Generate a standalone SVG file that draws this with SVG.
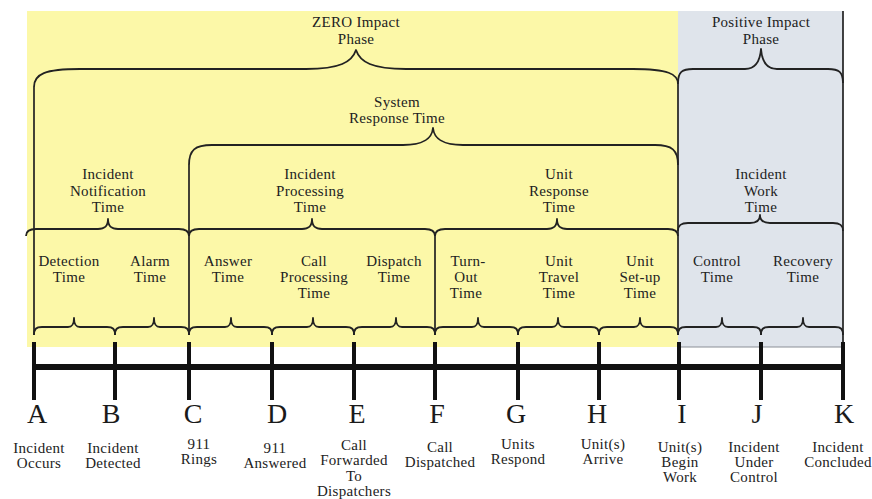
<svg xmlns="http://www.w3.org/2000/svg" width="872" height="499" viewBox="0 0 872 499">
<style>
  .t{font-family:"Liberation Serif","Times New Roman",serif;font-size:15px;letter-spacing:0.3px;fill:#222;text-anchor:middle}
  .L{font-family:"Liberation Serif","Times New Roman",serif;font-size:28px;fill:#1a1a1a;text-anchor:middle}
  .br{fill:none;stroke:#222;stroke-width:1.8;stroke-linejoin:round}
  .vl{stroke:#222;stroke-width:1.7}
  .tk{stroke:#111;stroke-width:4}
</style>
<rect width="872" height="499" fill="#ffffff"/>
<g id="backgrounds">
  <rect x="27" y="11" width="651" height="336" fill="#fcf8a8"/>
  <rect x="678" y="11" width="165" height="336" fill="#dfe4eb"/>
  <line x1="678" y1="347" x2="843" y2="347" stroke="#8a8f96" stroke-width="1"/>
</g>
<g id="connectors">
  <path class="br" d="M34,87 C34,74 45,69 80,69 L306,69 C340,69 352,62 356,50 C360,62 372,69 406,69 L633,69 C668,69 678,74 678,84"/>
  <path class="br" d="M678,83 C678,72 682,69 693,69 L745,69 C755,69 760,62 761,49 C762,62 767,69 777,69 L828,69 C839,69 843,72 843,83"/>
  <path class="br" d="M189,165 C189,150 195,145 212,145 L403,145 C425,145 432,138 433,128 C434,138 441,145 463,145 L655,145 C672,145 678,150 678,165"/>
  <path class="br" d="M26,236 C26,231 29,229 36,229 L98,229 C104,229 108,227 108,219 C108,227 112,229 118,229 L179,229 C186,229 189,231 189,236"/>
  <path class="br" d="M189,236 C189,231 192,229 199,229 L302,229 C308,229 312,227 312,219 C312,227 316,229 322,229 L425,229 C432,229 435,231 435,236"/>
  <path class="br" d="M435,236 C435,231 438,229 445,229 L547,229 C553,229 557,227 557,219 C557,227 561,229 567,229 L668,229 C675,229 678,231 678,236"/>
  <path class="br" d="M678,231 C678,225 681,223 688,223 L750,223 C756,223 760,221 760,215 C760,221 764,223 770,223 L833,223 C840,223 843,225 843,231"/>
  <line class="vl" x1="34" y1="87" x2="34" y2="335"/>
  <line class="vl" x1="189" y1="165" x2="189" y2="335"/>
  <line class="vl" x1="435" y1="236" x2="435" y2="335"/>
  <line class="vl" x1="678" y1="83" x2="678" y2="335"/>
  <line class="vl" x1="843" y1="11" x2="843" y2="347"/>
  <path class="br" d="M34,335 C34,329 36,327 42,327 L68,327 C72,327 74,325 74,318 C74,325 76,327 80,327 L107,327 C113,327 115,329 115,335"/>
  <path class="br" d="M115,335 C115,329 117,327 123,327 L148,327 C152,327 154,325 154,318 C154,325 156,327 160,327 L181,327 C187,327 189,329 189,335"/>
  <path class="br" d="M189,335 C189,329 191,327 197,327 L225,327 C229,327 231,325 231,318 C231,325 233,327 237,327 L264,327 C270,327 272,329 272,335"/>
  <path class="br" d="M272,335 C272,329 274,327 280,327 L307,327 C311,327 313,325 313,318 C313,325 315,327 319,327 L346,327 C352,327 354,329 354,335"/>
  <path class="br" d="M354,335 C354,329 356,327 362,327 L390,327 C394,327 396,325 396,318 C396,325 398,327 402,327 L427,327 C433,327 435,329 435,335"/>
  <path class="br" d="M435,335 C435,329 437,327 443,327 L472,327 C476,327 478,325 478,318 C478,325 480,327 484,327 L510,327 C516,327 518,329 518,335"/>
  <path class="br" d="M518,335 C518,329 520,327 526,327 L552,327 C556,327 558,325 558,318 C558,325 560,327 564,327 L591,327 C597,327 599,329 599,335"/>
  <path class="br" d="M599,335 C599,329 601,327 607,327 L634,327 C638,327 640,325 640,318 C640,325 642,327 646,327 L670,327 C676,327 678,329 678,335"/>
  <path class="br" d="M678,335 C678,329 680,327 686,327 L716,327 C720,327 722,325 722,318 C722,325 724,327 728,327 L753,327 C759,327 761,329 761,335"/>
  <path class="br" d="M761,335 C761,329 763,327 769,327 L797,327 C801,327 803,325 803,318 C803,325 805,327 809,327 L835,327 C841,327 843,329 843,335"/>
  <rect x="32" y="364" width="813" height="6" fill="#111"/>
</g>
<g id="phase-zero"><text class="t" x="356" y="27">ZERO Impact</text><text class="t" x="356" y="44">Phase</text></g>
<g id="phase-positive"><text class="t" x="761" y="27">Positive Impact</text><text class="t" x="761" y="44">Phase</text></g>
<g id="system-response"><text class="t" x="397" y="107">System</text><text class="t" x="397" y="123">Response Time</text></g>
<g id="incident-notification"><text class="t" x="108" y="179">Incident</text><text class="t" x="108" y="196">Notification</text><text class="t" x="108" y="212">Time</text></g>
<g id="incident-processing"><text class="t" x="310" y="179">Incident</text><text class="t" x="310" y="196">Processing</text><text class="t" x="310" y="212">Time</text></g>
<g id="unit-response"><text class="t" x="559" y="179">Unit</text><text class="t" x="559" y="196">Response</text><text class="t" x="559" y="212">Time</text></g>
<g id="incident-work"><text class="t" x="761" y="179">Incident</text><text class="t" x="761" y="196">Work</text><text class="t" x="761" y="212">Time</text></g>
<g id="detection-time"><text class="t" x="69" y="266">Detection</text><text class="t" x="69" y="282">Time</text></g>
<g id="alarm-time"><text class="t" x="150" y="266">Alarm</text><text class="t" x="150" y="282">Time</text></g>
<g id="answer-time"><text class="t" x="228" y="266">Answer</text><text class="t" x="228" y="282">Time</text></g>
<g id="call-processing-time"><text class="t" x="314" y="266">Call</text><text class="t" x="314" y="282">Processing</text><text class="t" x="314" y="298">Time</text></g>
<g id="dispatch-time"><text class="t" x="394" y="266">Dispatch</text><text class="t" x="394" y="282">Time</text></g>
<g id="turnout-time"><text class="t" x="468" y="266">Turn-</text><text class="t" x="466" y="282">Out</text><text class="t" x="466" y="298">Time</text></g>
<g id="unit-travel-time"><text class="t" x="559" y="266">Unit</text><text class="t" x="559" y="282">Travel</text><text class="t" x="559" y="298">Time</text></g>
<g id="unit-setup-time"><text class="t" x="640" y="266">Unit</text><text class="t" x="640" y="282">Set-up</text><text class="t" x="640" y="298">Time</text></g>
<g id="control-time"><text class="t" x="717" y="266">Control</text><text class="t" x="717" y="282">Time</text></g>
<g id="recovery-time"><text class="t" x="803" y="266">Recovery</text><text class="t" x="803" y="282">Time</text></g>
<g id="point-A"><line class="tk" x1="34" y1="342" x2="34" y2="400"/><text class="L" x="37" y="423">A</text><text class="t" x="39" y="453">Incident</text><text class="t" x="39" y="468">Occurs</text></g>
<g id="point-B"><line class="tk" x1="115" y1="342" x2="115" y2="400"/><text class="L" x="111" y="423">B</text><text class="t" x="113" y="453">Incident</text><text class="t" x="113" y="468">Detected</text></g>
<g id="point-C"><line class="tk" x1="189" y1="342" x2="189" y2="400"/><text class="L" x="193" y="423">C</text><text class="t" x="199" y="449">911</text><text class="t" x="199" y="464">Rings</text></g>
<g id="point-D"><line class="tk" x1="272" y1="342" x2="272" y2="400"/><text class="L" x="277" y="423">D</text><text class="t" x="275" y="453">911</text><text class="t" x="275" y="468">Answered</text></g>
<g id="point-E"><line class="tk" x1="354" y1="342" x2="354" y2="400"/><text class="L" x="357" y="423">E</text><text class="t" x="354" y="450">Call</text><text class="t" x="354" y="465">Forwarded</text><text class="t" x="354" y="481">To</text><text class="t" x="354" y="496">Dispatchers</text></g>
<g id="point-F"><line class="tk" x1="435" y1="342" x2="435" y2="400"/><text class="L" x="437" y="423">F</text><text class="t" x="440" y="452">Call</text><text class="t" x="440" y="467">Dispatched</text></g>
<g id="point-G"><line class="tk" x1="518" y1="342" x2="518" y2="400"/><text class="L" x="516" y="423">G</text><text class="t" x="518" y="449">Units</text><text class="t" x="518" y="464">Respond</text></g>
<g id="point-H"><line class="tk" x1="599" y1="342" x2="599" y2="400"/><text class="L" x="597" y="423">H</text><text class="t" x="603" y="449">Unit(s)</text><text class="t" x="603" y="464">Arrive</text></g>
<g id="point-I"><line class="tk" x1="679" y1="342" x2="679" y2="400"/><text class="L" x="682" y="423">I</text><text class="t" x="680" y="452">Unit(s)</text><text class="t" x="680" y="467">Begin</text><text class="t" x="680" y="482">Work</text></g>
<g id="point-J"><line class="tk" x1="761" y1="342" x2="761" y2="400"/><text class="L" x="757" y="423">J</text><text class="t" x="754" y="452">Incident</text><text class="t" x="754" y="467">Under</text><text class="t" x="754" y="482">Control</text></g>
<g id="point-K"><line class="tk" x1="843" y1="342" x2="843" y2="400"/><text class="L" x="844" y="423">K</text><text class="t" x="838" y="452">Incident</text><text class="t" x="838" y="467">Concluded</text></g>
</svg>
